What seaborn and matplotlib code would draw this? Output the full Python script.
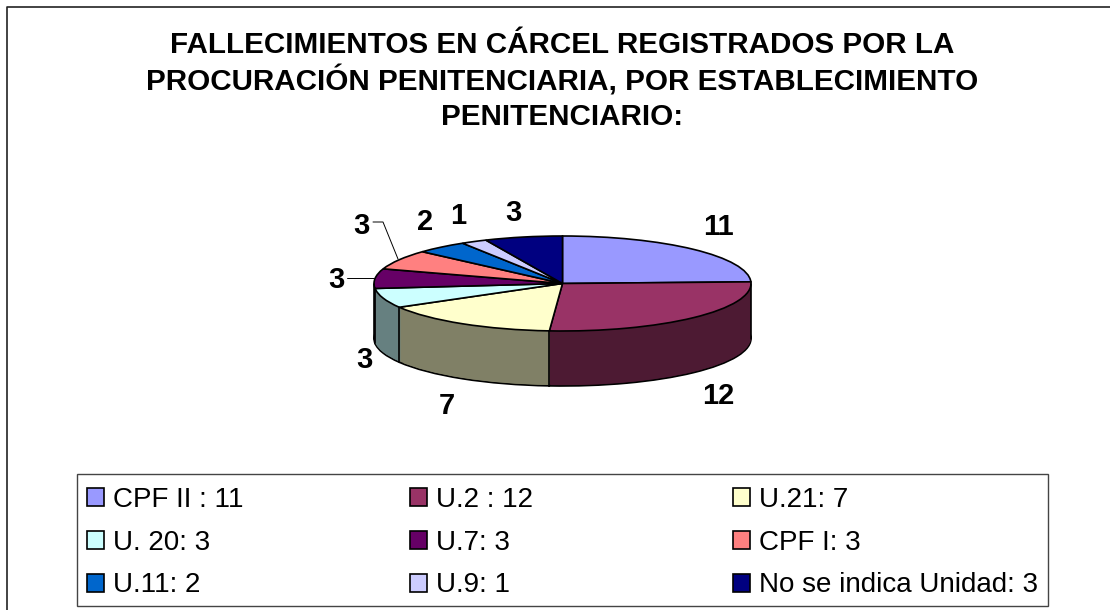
import numpy as np
import matplotlib
matplotlib.use("Agg")
import matplotlib.pyplot as plt
from matplotlib.lines import Line2D
from matplotlib.patches import Rectangle
import seaborn as sns

titulo = ["FALLECIMIENTOS EN CÁRCEL REGISTRADOS POR LA",
          "PROCURACIÓN PENITENCIARIA, POR ESTABLECIMIENTO",
          "PENITENCIARIO:"]
unidades = ["CPF II : 11", "U.2 : 12", "U.21: 7",
            "U. 20: 3", "U.7: 3", "CPF I: 3",
            "U.11: 2", "U.9: 1", "No se indica Unidad: 3"]
valores = [11, 12, 7, 3, 3, 3, 2, 1, 3]
colores = ["#9999ff", "#993366", "#ffffcc", "#ccffff", "#660066",
           "#ff8080", "#0066cc", "#ccccff", "#000080"]
etiquetas_xy = [(718, 227), (718, 396), (447, 406), (364, 360), (336, 280),
                (361, 226), (425, 222), (458, 216), (513, 213)]

W, H = 1110, 610
sns.set_theme(style="white")
plt.rcParams["font.family"] = ["Liberation Sans", "DejaVu Sans"]

fig = plt.figure(figsize=(W / 100, H / 100), dpi=100)


def fx(x):
    return x / W


def fy(y):
    return 1 - y / H


# marco exterior: solo se ven el borde de arriba y el izquierdo
fig.add_artist(Line2D([fx(6.5), fx(6.5), 1], [0, fy(7), fy(7)], color="#222222", lw=1.2))

# torta: elipse con costado apilado
left, right, top, bottom = 374, 751, 236, 386
ry = 47.5
prof = (bottom - top - 2 * ry) / ry
ax = fig.add_axes([fx(left), fy(bottom), (right - left) / W, (bottom - top) / H])
oscuros = sns.color_palette([tuple(c / 2 for c in matplotlib.colors.to_rgb(k)) for k in colores])

for d in np.linspace(prof, 0, int(prof * ry) + 1)[:-1]:
    ax.pie(valores, colors=oscuros, startangle=90, counterclock=False, center=(0, -d),
           wedgeprops=dict(ec="black" if d == prof else "none", lw=1.2))
ax.pie(valores, colors=colores, startangle=90, counterclock=False, center=(0, 0),
       wedgeprops=dict(ec="black", lw=1.2))

# aristas verticales del costado
angulos = np.radians(90 - np.cumsum(valores) / sum(valores) * 360)
for a in angulos:
    if np.sin(a) < 0:
        ax.plot([np.cos(a)] * 2, [np.sin(a), np.sin(a) - prof], color="black", lw=1.2, clip_on=False)
for lado in [-1, 1]:
    ax.plot([lado, lado], [0, -prof], color="black", lw=1.2, clip_on=False)

ax.set_aspect("auto")
ax.set_xlim(-1, 1)
ax.set_ylim(-1 - prof, 1)
ax.axis("off")

for linea, y in zip(titulo, [45, 81, 117]):
    fig.text(fx(562), fy(y), linea, ha="center", va="center", fontsize=21.3, fontweight="bold", color="black")

for v, (x, y) in zip(valores, etiquetas_xy):
    fig.text(fx(x), fy(y), str(v), ha="center", va="center", fontsize=21, fontweight="bold", color="black")

# lineas guia
fig.add_artist(Line2D([fx(373), fx(383), fx(398)], [fy(222), fy(222), fy(259)], color="black", lw=0.7))
fig.add_artist(Line2D([fx(347), fx(374)], [fy(278), fy(278)], color="black", lw=0.7))

# leyenda
fig.add_artist(Rectangle((fx(76.5), fy(606)), 971 / W, 132 / H, transform=fig.transFigure,
                         fc="white", ec="#444444", lw=1.0))
for col, x0 in enumerate([87, 410, 733]):
    idx = list(range(col, len(valores), 3))
    handles = [Rectangle((0, 0), 1, 1, fc=colores[i], ec="black", lw=1.2) for i in idx]
    fig.legend(handles, [unidades[i] for i in idx], loc="upper left",
               bbox_to_anchor=(fx(x0), fy(487)), bbox_transform=fig.transFigure,
               frameon=False, fontsize=20, ncol=1, borderpad=0, borderaxespad=0,
               handlelength=0.62, handleheight=0.62, handletextpad=0.33, labelspacing=0.6,
               labelcolor="black")

fig.savefig("out.png", dpi=100, facecolor="white")
